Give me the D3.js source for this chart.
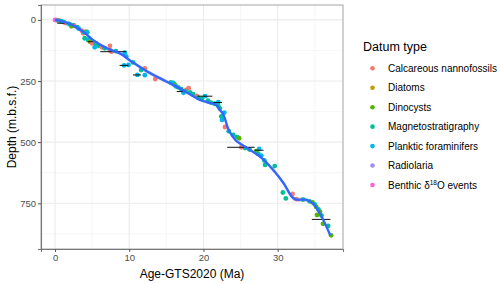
<!DOCTYPE html>
<html><head><meta charset="utf-8">
<script src="https://cdn.jsdelivr.net/npm/d3@7"></script>
<style>body{margin:0;background:#fff}svg{display:block;font-family:"Liberation Sans",Arial,sans-serif}</style>
</head><body><svg id="c" width="500" height="284"></svg>
<script>
const categories = ["Calcareous nannofossils","Diatoms","Dinocysts","Magnetostratigraphy","Planktic foraminifers","Radiolaria","Benthic δ18O events"];
const colors = ["#F8766D","#C49A00","#53B400","#00C094","#00B6EB","#A58AFF","#FB61D7"];
const xTicks = [0,10,20,30];
const yTicks = [0,250,500,750];
// [age Ma, depth m, category index]
const points = [
[0,0,6],[0.2,1,6],[0.4,2,3],[0.6,3,0],[0.8,5,3],[1.0,7,4],[1.2,9,3],[1.4,13,0],[1.8,15,3],[2.0,18,4],[2.5,21,3],[2.6,24,0],[2.2,26,2],[3.0,30,3],[3.2,36,4],[3.6,44,0],[3.8,55,0],[3.9,50,3],[4.2,48,2],[4.35,50,4],
[4.0,75,3],[4.45,82,3],[4.5,80,4],[4.7,89,2],[5.0,96,0],[5.5,100,3],[5.35,112,4],[5.9,106,3],[6.3,112,0],[6.7,116,3],[7.4,106,0],[7.4,124,0],[7.6,130,0],[8.2,128,3],
[9.4,134,4],[9.6,149,4],[9.3,186,4],[9.9,184,4],[10.5,174,3],[11.1,225,4],[12.1,198,0],[12.1,226,4],[11.6,205,3],[13.5,242,0],
[15.6,256,3],[15.9,258,4],[16.1,264,3],[16.2,268,2],[16.3,272,4],[16.6,276,3],[17.0,283,3],[18.0,279,0],[17.7,286,0],[17.3,298,4],[17.5,291,3],[18.2,296,3],[18.6,304,3],[19.1,311,0],[19.3,318,3],[19.8,322,3],[20.2,312,4],[20.6,330,3],[21.0,338,3],[22.0,336,4],[21.5,343,3],[22.0,352,3],[22.2,362,3],
[22.8,379,4],[22.4,395,3],[22.5,409,4],[22.9,438,0],[23.4,455,3],[24.0,470,3],[24.5,478,3],[24.8,484,2],[25.1,521,0],[25.6,524,3],[26.2,530,3],[27.1,537,2],[27.5,528,4],[27.4,548,3],[27.8,555,4],[28.2,575,3],[28.3,593,3],[29.6,598,3],
[30.7,706,3],[31.1,730,3],[32.0,712,0],[32.5,733,0],[33.4,735,3],[34.3,742,3],[34.7,746,2],[35.0,755,3],[35.2,765,2],[35.5,775,3],[35.3,798,2],[35.7,785,2],[35.9,800,3],[36.1,834,2],[36.8,843,3],[37.2,881,2]
];
// horizontal age uncertainty bars: [depth, ageMin, ageMax]
const errBars = [[13.5,0.3,1.3],[89,4.4,5.7],[130,6.1,9.6],[186,8.7,9.9],[225,10.5,11.6],[293,16.4,17.4],[312,19.2,21.2],[338,21.3,22.5],[521,23.2,26.9],[533,26.9,28.1],[816,34.6,37.1]];
// smoothed age model: [age, depth, half-width of confidence band (m)]
const smooth = [[0,0,4],[0.7,4,4],[2.0,16,4],[3.8,48,4],[5.2,84,4],[7.0,116,5],[8.8,138,5],[10.3,170,5],[12.4,211,9],[15.0,252,7],[16.8,280,4],[19.5,327,4],[20.4,336,4],[21.7,348,4],[22.2,368,4],[22.7,389,4],[23.4,450,5],[24.3,491,5],[25.2,511,5],[27.9,566,5],[29.6,621,6],[30.8,668,6],[31.9,723,7],[32.4,734,9],[33.9,736,9],[34.8,752,5],[35.8,798,5],[37.1,882,6]];

const svg = d3.select("#c");
const L=41,R=343,T=5,B=249;
const x = d3.scaleLinear().domain([-1.89,38.8]).range([L,R]);
const y = d3.scaleLinear().domain([-61,937]).range([T,B]);

svg.append("rect").attr("x",L).attr("y",T).attr("width",R-L).attr("height",B-T).attr("fill","#fff");
const g = svg.append("g");
[5,15,25,35].forEach(v=>g.append("line").attr("x1",x(v)).attr("x2",x(v)).attr("y1",T).attr("y2",B).attr("stroke","#f0f0f0").attr("stroke-width",0.6));
[125,375,625,875].forEach(v=>g.append("line").attr("y1",y(v)).attr("y2",y(v)).attr("x1",L).attr("x2",R).attr("stroke","#f0f0f0").attr("stroke-width",0.6));
xTicks.forEach(v=>g.append("line").attr("x1",x(v)).attr("x2",x(v)).attr("y1",T).attr("y2",B).attr("stroke","#ebebeb").attr("stroke-width",1.1));
yTicks.forEach(v=>g.append("line").attr("y1",y(v)).attr("y2",y(v)).attr("x1",L).attr("x2",R).attr("stroke","#ebebeb").attr("stroke-width",1.1));

// ribbon
const area = d3.area().x(d=>x(d[0])).y0(d=>y(d[1]-d[2])).y1(d=>y(d[1]+d[2])).curve(d3.curveCatmullRom);
svg.append("path").datum(smooth).attr("d",area).attr("fill","#999").attr("opacity",0.4);

// points
svg.append("g").selectAll("circle").data(points).join("circle")
 .attr("cx",d=>x(d[0])).attr("cy",d=>y(d[1])).attr("r",2.4).attr("fill",d=>colors[d[2]]);

// error bars
svg.append("g").selectAll("line").data(errBars).join("line")
 .attr("x1",d=>x(d[1])).attr("x2",d=>x(d[2])).attr("y1",d=>y(d[0])).attr("y2",d=>y(d[0]))
 .attr("stroke","#111").attr("stroke-width",1);

// smooth line
const line = d3.line().x(d=>x(d[0])).y(d=>y(d[1])).curve(d3.curveCatmullRom);
svg.append("path").datum(smooth).attr("d",line).attr("fill","none").attr("stroke","#3366FF").attr("stroke-width",2.4);

// border
svg.append("rect").attr("x",L).attr("y",T).attr("width",R-L).attr("height",B-T).attr("fill","none").attr("stroke","#b3b3b3").attr("stroke-width",1.2);

// axes
const ax = svg.append("g").attr("transform",`translate(0,${B})`).call(d3.axisBottom(x).tickValues(xTicks).tickSize(3).tickPadding(2));
const ay = svg.append("g").attr("transform",`translate(${L},0)`).call(d3.axisLeft(y).tickValues(yTicks).tickSize(3).tickPadding(2));
[ax,ay].forEach(a=>{a.select(".domain").attr("stroke","#777").attr("stroke-width",1.1);
 a.selectAll(".tick line").attr("stroke","#555");
 a.selectAll("text").attr("fill","#4d4d4d").style("font-size","9.5px").style("font-family","Liberation Sans, Arial, sans-serif");});

svg.append("text").attr("x",(L+R)/2).attr("y",278).attr("text-anchor","middle").style("font-size","12px").attr("fill","#000").text("Age-GTS2020 (Ma)");
svg.append("text").attr("transform",`translate(16,${(T+B)/2}) rotate(-90)`).attr("text-anchor","middle").style("font-size","12px").attr("fill","#000").text("Depth (m.b.s.f.)");

// legend
const lg = svg.append("g");
lg.append("text").attr("x",363).attr("y",51).style("font-size","12.5px").text("Datum type");
categories.forEach((c,i)=>{
 const yy = 68.3 + i*19.45;
 lg.append("circle").attr("cx",372.5).attr("cy",yy).attr("r",2.3).attr("fill",colors[i]);
 const t = lg.append("text").attr("x",388).attr("y",yy+3.5).style("font-size","10px");
 if(i===6){ t.text("Benthic δ"); t.append("tspan").attr("dy",-3.5).style("font-size","6.5px").text("18"); t.append("tspan").attr("dy",3.5).text("O events"); }
 else t.text(c);
});
</script></body></html>
